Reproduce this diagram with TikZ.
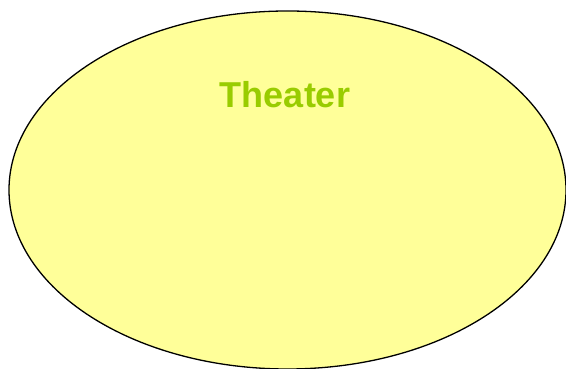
\documentclass[tikz,border=0pt]{standalone}
\usepackage{fontspec}
\setmainfont{Liberation Sans}
\usetikzlibrary{shapes.geometric}
\definecolor{theaterfill}{RGB}{255,255,153}
\definecolor{theatergreen}{RGB}{153,204,0}
\tikzset{
  venue/.style={ellipse,draw=black,line width=1.3pt,fill=theaterfill,minimum width=557pt,minimum height=358pt,inner sep=0pt},
  venuelabel/.style={text=theatergreen,font=\fontsize{36}{40}\selectfont\bfseries},
}
\begin{document}
\begin{tikzpicture}[x=1pt,y=1pt]
  \useasboundingbox (0,0) rectangle (566,369);
  \node[venue] (theater) at (287.5,179) {};
  \node[venuelabel] (title) at (285,274) {Theater};
\end{tikzpicture}
\end{document}
